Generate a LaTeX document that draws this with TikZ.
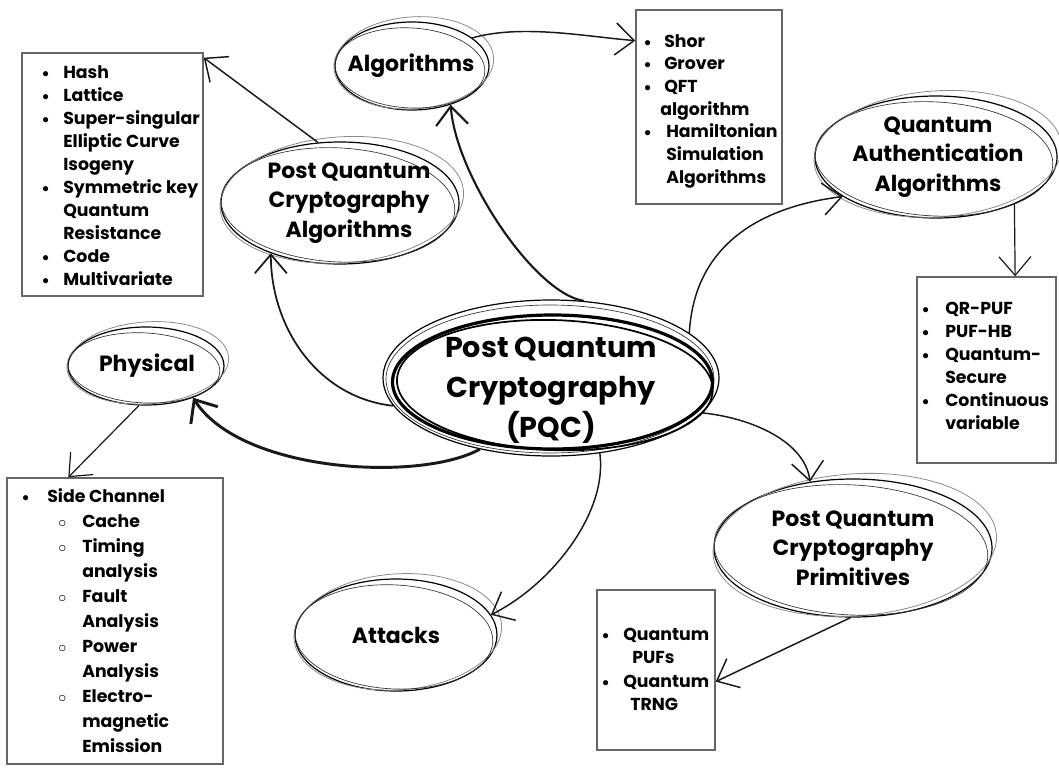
\documentclass[tikz,border=0pt]{standalone}
\usepackage{fontspec}
\setmainfont{Poppins}
\usetikzlibrary{arrows.meta,shapes.geometric,fit}

\newlength\pxu \setlength\pxu{0.75pt}
% list helpers: bullet + text, indented continuation, hollow sub-bullet
\newcommand\bi[2]{\makebox[#1\pxu][l]{\raisebox{0.8pt}{\fontsize{10}{10}\selectfont$\bullet$}}#2}
\newcommand\ti[2]{\hspace*{#1\pxu}#2}
\newcommand\ci[3]{\hspace*{#1\pxu}\makebox[#2\pxu][l]{$\circ$}#3}

\tikzset{
  bub/.style={ellipse, draw=black, line width=0.9pt, inner sep=0pt},
  bubtxt/.style={align=center, font=\fontsize{16.5}{22}\selectfont\bfseries, inner sep=0pt},
  skA/.style={draw=black!45, line width=0.6pt},
  skB/.style={draw=black!80, line width=0.5pt},
  listbox/.style={draw=black!60, line width=1.1pt, inner sep=0pt},
  listtxt/.style={anchor=north west, inner sep=0pt, font=\fontsize{13}{17.25}\selectfont\bfseries},
  conn/.style={draw=black!90, line width=1.1pt, -{Straight Barb[length=14pt,width=24pt]}},
}

% hand-drawn looking bubble: name, x, y, x-radius, y-radius, label x, label
\newcommand\bubble[7]{%
  \node[bub, minimum width={2*#4*0.75pt}, minimum height={2*#5*0.75pt}] (#1) at (#2,#3) {};
  \node[bubtxt] (#1-t) at (#6,#3) {#7};
  \draw[skA, rotate around={4:(#2,#3)}] (#2+2,#3-3) ellipse [x radius=#4+3, y radius=#5+2];
  \draw[skB, rotate around={-3:(#2,#3)}] (#2-2,#3+2) ellipse [x radius=#4-2, y radius=#5-4];
}

\begin{document}
\begin{tikzpicture}[x=0.75pt, y=-0.75pt]
\path[use as bounding box, fill=white] (0,0) rectangle (1059,767);

% central concept
\node[bub, minimum width={2*168*0.75pt}, minimum height={2*78*0.75pt}] (pqc) at (551,378) {};
\draw[skB] (550,379) ellipse [x radius=164, y radius=74];
\draw[line width=2.4pt] (552.5,382) ellipse [x radius=160, y radius=67];
\draw[line width=1.3pt, rotate around={-2:(552,381)}] (555,385) ellipse [x radius=158, y radius=65];
\node[font=\fontsize{21.5}{30}\selectfont\bfseries, align=center, inner sep=0pt] (pqc-t) at (551,390)
  {Post Quantum\\Cryptography\\(PQC)};

% branches
\bubble{alg}{412}{66}{77}{44}{411}{Algorithms}
\bubble{pqca}{340}{203}{119}{61}{349}{Post Quantum\\Cryptography\\Algorithms}
\bubble{qaa}{936}{157}{121}{61}{938}{Quantum\\Authentication\\Algorithms}
\bubble{phys}{146}{366}{78}{39}{147}{Physical}
\bubble{att}{396}{635}{101}{56}{396}{Attacks}
\bubble{prim}{853}{548}{139}{69}{853}{Post Quantum\\Cryptography\\Primitives}

% lists
\node[listbox, fit={(22,53) (203,296)}] (box1) {};
\node[listtxt] (l1) at (42,62) {\begin{tabular}{@{}l@{}}
  \bi{21}{Hash}\\ \bi{21}{Lattice}\\ \bi{21}{Super-singular}\\ \ti{21}{Elliptic Curve}\\
  \ti{21}{Isogeny}\\ \bi{21}{Symmetric key}\\ \ti{21}{Quantum}\\ \ti{21}{Resistance}\\
  \bi{21}{Code}\\ \bi{21}{Multivariate}\end{tabular}};

\node[listbox, fit={(636,10) (782,204)}] (box2) {};
\node[listtxt, font=\fontsize{13}{17}\selectfont\bfseries] (l2) at (644,31) {\begin{tabular}{@{}l@{}}
  \bi{20}{Shor}\\ \bi{20}{Grover}\\ \bi{20}{QFT}\\ \ti{16}{algorithm}\\
  \bi{22}{Hamiltonian}\\ \ti{22}{Simulation}\\ \ti{22}{Algorithms}\end{tabular}};

\node[listbox, fit={(917,277) (1056,463)}] (box3) {};
\node[listtxt] (l3) at (922,298) {\begin{tabular}{@{}l@{}}
  \bi{23}{QR-PUF}\\ \bi{23}{PUF-HB}\\ \bi{23}{Quantum-}\\ \ti{23}{Secure}\\
  \bi{23}{Continuous}\\ \ti{23}{variable}\end{tabular}};

\node[listbox, fit={(7,478) (223,764)}] (box4) {};
\node[listtxt, font=\fontsize{13}{18.75}\selectfont\bfseries] (l4) at (22,484.5) {\begin{tabular}{@{}l@{}}
  \bi{25}{Side Channel}\\ \ci{36}{24}{Cache}\\ \ci{36}{24}{Timing}\\ \ti{60}{analysis}\\
  \ci{36}{24}{Fault}\\ \ti{60}{Analysis}\\ \ci{36}{24}{Power}\\ \ti{60}{Analysis}\\
  \ci{36}{24}{Electro-}\\ \ti{60}{magnetic}\\ \ti{60}{Emission}\end{tabular}};

\node[listbox, fit={(597,590) (715,750)}] (box5) {};
\node[listtxt, font=\fontsize{13}{17.5}\selectfont\bfseries] (l5) at (602,624) {\begin{tabular}{@{}l@{}}
  \bi{21}{Quantum}\\ \ti{30}{PUFs}\\ \bi{21}{Quantum}\\ \ti{28}{TRNG}\end{tabular}};

% connectors
\draw[conn, line width=1.6pt] (pqc.67) .. controls +(-50,-8) and +(5,70) .. (alg.-45);
\draw[conn] (alg.25) .. controls +(50,-14) and +(-50,-4) .. (box2.138);
\draw[conn, line width=1.3pt] (pqc.190) .. controls +(-75,-8) and +(0,75) .. (pqca.216);
\draw[conn] (pqca.110) -- (box1.52);
\draw[conn, line width=2.2pt] (pqc.225) .. controls +(-60,33) and +(48,75) .. (phys.-34);
\draw[conn, line width=0.9pt] (phys.-100) -- (box4.108);
\draw[conn] (pqc.18) .. controls +(5,-90) and +(-80,10) .. (qaa.203);
\draw[conn, line width=0.9pt] (qaa.-31) -- (box3.73);
\draw[conn] (pqc.-13) .. controls +(50,5) and +(-5,-40) .. (prim.123);
\draw[conn] (pqc.-57) .. controls +(8,60) and +(60,-30) .. (att.12);
\draw[conn] (prim.268) -- (box5.-11);
\end{tikzpicture}
\end{document}
